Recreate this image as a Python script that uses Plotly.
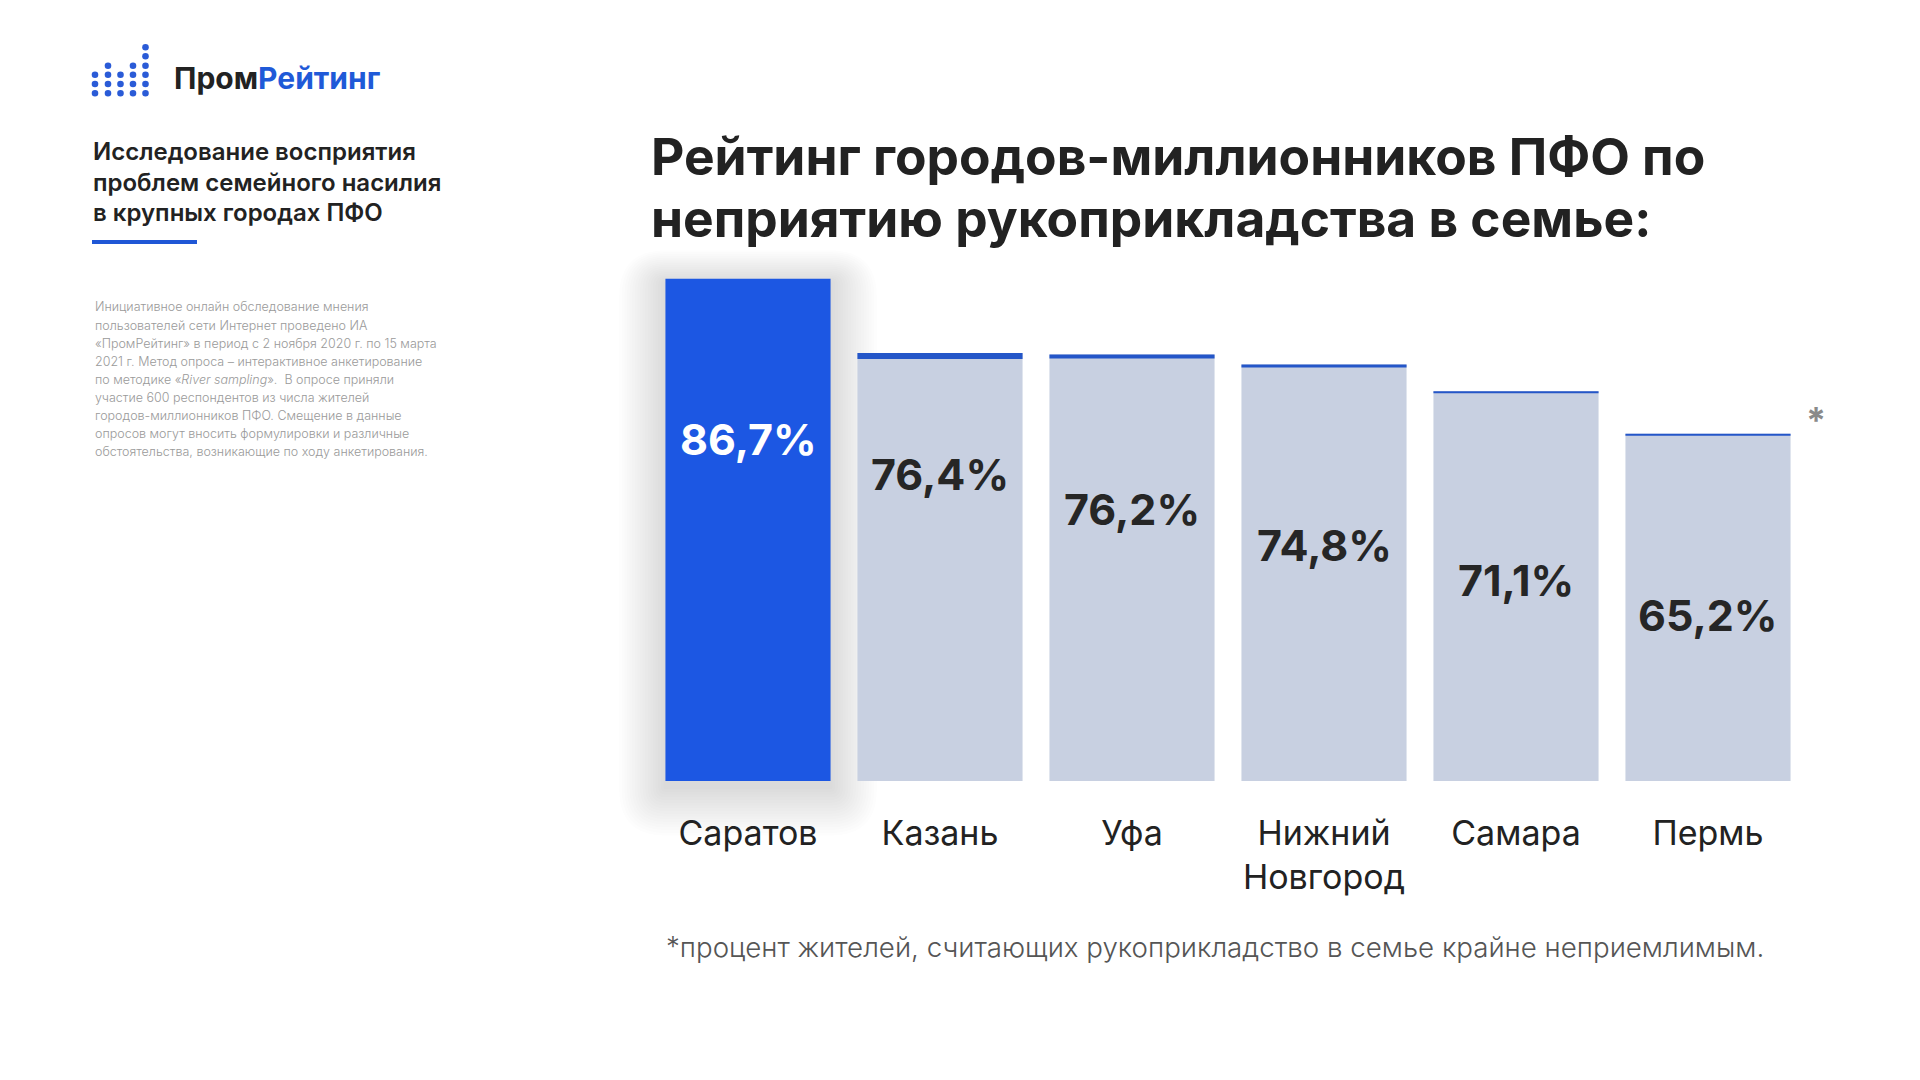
import plotly.graph_objects as go

# ---------------- data ----------------
cities = ["Саратов", "Казань", "Уфа", "Нижний<br>Новгород", "Самара", "Пермь"]
values = [86.7, 76.4, 76.2, 74.8, 71.1, 65.2]
value_labels = ["86,7%", "76,4%", "76,2%", "74,8%", "71,1%", "65,2%"]

title_lines = ["Рейтинг городов-миллионников ПФО по",
               "неприятию рукоприкладства в семье:"]
side_title = ["Исследование восприятия",
              "проблем семейного насилия",
              "в крупных городах ПФО"]
side_note = ["Инициативное онлайн обследование мнения",
             "пользователей сети Интернет проведено ИА",
             "«ПромРейтинг» в период с 2 ноября 2020 г. по 15 марта",
             "2021 г. Метод опроса – интерактивное анкетирование",
             "по методике «<i>River sampling</i>».  В опросе приняли",
             "участие 600 респондентов из числа жителей",
             "городов-миллионников ПФО. Смещение в данные",
             "опросов могут вносить формулировки и различные",
             "обстоятельства, возникающие по ходу анкетирования."]
footnote = "*процент жителей, считающих рукоприкладство в семье крайне неприемлимым."

# ---------------- style ----------------
W, H = 1920, 1080
FONT = "Inter"
BLUE = "#1c57e3"
GREY_BAR = "#c8d0e1"
STRIP = "#2456c8"
DARK = "#222222"
strip_px = [0, 6, 4, 3, 2, 2]          # thickness of the blue top edge, px
BAR_W = 0.86

Y0, Y1 = 17, 100
ydom = [(H - 781) / H, (H - 183) / H]
xdom = [652 / W, 1804 / W]
px_per_unit = (ydom[1] - ydom[0]) * H / (Y1 - Y0)
cat_px = (xdom[1] - xdom[0]) * W / len(cities)


def px(x, y):
    return x / W, 1 - y / H


fig = go.Figure()

fig.add_trace(go.Bar(
    x=cities, y=values,
    marker=dict(color=[BLUE] + [GREY_BAR] * (len(values) - 1), line=dict(width=0)),
    width=BAR_W, hoverinfo="skip", showlegend=False,
))
thick = [p / px_per_unit for p in strip_px]
fig.add_trace(go.Bar(
    x=cities, y=thick, base=[v - t for v, t in zip(values, thick)],
    marker=dict(color=STRIP, line=dict(width=0)),
    width=BAR_W, hoverinfo="skip", showlegend=False,
))

shapes = []
# soft shadow around the highlighted bar (pixel box derived from the axes set-up)
bx0 = xdom[0] * W + (0.5 - BAR_W / 2) * cat_px
bx1 = xdom[0] * W + (0.5 + BAR_W / 2) * cat_px
by1 = H - ydom[0] * H
by0 = by1 - (values[0] - Y0) * px_per_unit


def rounded(x0, y0, x1, y1, rad):
    def P(x, y):
        a, b = px(x, y)
        return f"{a:.5f},{b:.5f}"
    return (f"M {P(x0 + rad, y0)} L {P(x1 - rad, y0)} Q {P(x1, y0)} {P(x1, y0 + rad)} "
            f"L {P(x1, y1 - rad)} Q {P(x1, y1)} {P(x1 - rad, y1)} "
            f"L {P(x0 + rad, y1)} Q {P(x0, y1)} {P(x0, y1 - rad)} "
            f"L {P(x0, y0 + rad)} Q {P(x0, y0)} {P(x0 + rad, y0)} Z")


for k in range(18):
    pad = 2 + k * 2.6
    shapes.append(dict(
        type="path", xref="paper", yref="paper", layer="below",
        path=rounded(bx0 - pad, by0 - pad * 0.7 + 4, bx1 + pad, by1 + pad * 1.05 + 6, pad),
        fillcolor="rgba(80,90,120,0.0105)", line=dict(width=0),
    ))

# logo dots
cols_x = [95, 108, 120.5, 133, 145.5]
rows_y = [93.3, 84, 74.7, 65.7, 56.3, 47.3]
counts = [3, 4, 3, 4, 6]
r = 3.3
for cx, n in zip(cols_x, counts):
    for ry in rows_y[:n]:
        x0, y0 = px(cx - r, ry + r)
        x1, y1 = px(cx + r, ry - r)
        shapes.append(dict(type="circle", xref="paper", yref="paper",
                           x0=x0, x1=x1, y0=y0, y1=y1,
                           fillcolor="#2a5bd7", line=dict(width=0)))

# underline under side title
x0, y0 = px(92, 244)
x1, y1 = px(197, 240)
shapes.append(dict(type="rect", xref="paper", yref="paper", x0=x0, x1=x1, y0=y0, y1=y1,
                   fillcolor="#1f57d6", line=dict(width=0)))

ann = []


def text(x, y, s, size, color=DARK, weight=400, xanchor="left"):
    ax, ay = px(x, y)
    ann.append(dict(x=ax, y=ay, xref="paper", yref="paper", text=s, showarrow=False,
                    xanchor=xanchor, yanchor="middle",
                    font=dict(family=FONT, size=size, color=color, weight=weight)))


# logo text
text(172, 78, "Пром<span style='color:#1f5ad8'>Рейтинг</span>", 30, DARK, 700)

for i, s in enumerate(side_title):
    text(91, 152 + i * 30, s, 24, DARK, 600)
for i, s in enumerate(side_note):
    text(93, 307 + i * 18.1, s, 12.5, "#9a9a9a", 300)

for i, s in enumerate(title_lines):
    text(649, 156 + i * 62, s, 51.5, DARK, 700)

text(664, 947, footnote, 27.7, "#555555", 300)
text(1816, 420, "*", 36, "#8a8a8a", 700, "center")

# value labels (staircase inside the bars)
for i, (c, lab) in enumerate(zip(cities, value_labels)):
    ann.append(dict(x=c, xref="x", y=1 - (439 + 35.2 * i) / H, yref="paper",
                    text=lab, showarrow=False, xanchor="center", yanchor="middle",
                    font=dict(family=FONT, size=43, weight=700,
                              color="#ffffff" if i == 0 else "#262626")))

fig.update_layout(
    width=W, height=H,
    margin=dict(l=0, r=0, t=0, b=0),
    paper_bgcolor="white", plot_bgcolor="white",
    barmode="overlay",
    shapes=shapes, annotations=ann,
    xaxis=dict(domain=xdom, range=[-0.5, 5.5], showgrid=False, zeroline=False,
               showline=False, ticks="", ticklabelstandoff=29,
               tickfont=dict(family=FONT, size=34, color=DARK)),
    yaxis=dict(domain=ydom, range=[Y0, Y1], visible=False, showgrid=False),
    font=dict(family=FONT),
)

fig.write_html("out.html", config={"displayModeBar": False},
               post_script="document.body.style.margin='0';")
